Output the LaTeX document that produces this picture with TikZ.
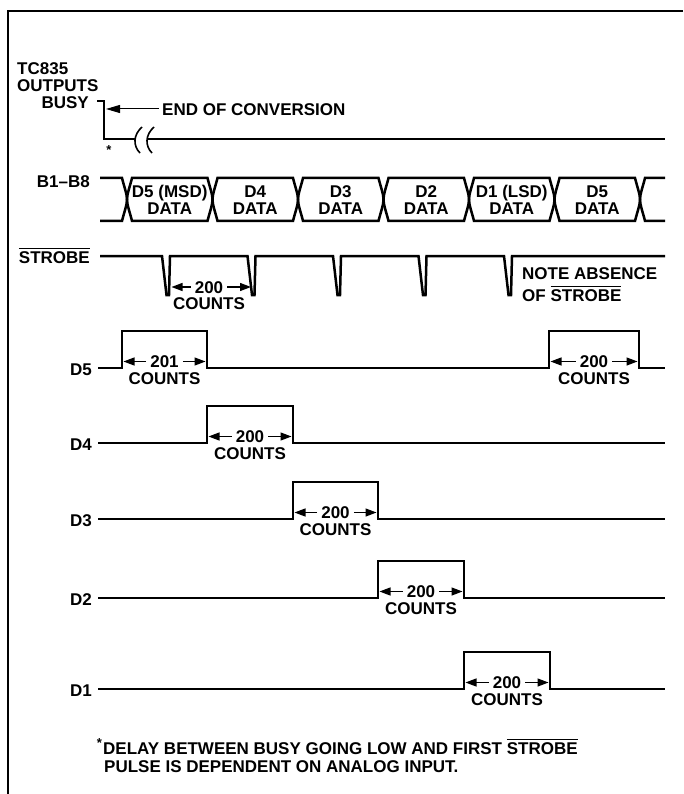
\documentclass[tikz,border=0pt]{standalone}
\usepackage{fontspec}
\setmainfont{Liberation Sans}
\usetikzlibrary{arrows.meta}
\newcommand\ovl[1]{\vbox{\hrule height 0.9pt\kern 2.5pt\hbox{#1}}}
\begin{document}
\begin{tikzpicture}[x=1pt,y=-1pt,
  sig/.style={line width=2.5pt},
  thinline/.style={line width=1.6pt},
  lbl/.style={font=\fontsize{17}{18}\selectfont\bfseries, inner sep=0pt, text height=12.2pt, text depth=0pt},
  small/.style={font=\fontsize{13}{13}\selectfont\bfseries, inner sep=0pt},
  frame/.style={line width=1.2pt},
  dim/.style={line width=1.3pt, -{Triangle[length=11pt,width=8pt]}},
  eocarrow/.style={line width=1pt, -{Triangle[length=14pt,width=8pt]}}
]
\useasboundingbox (0,0) rectangle (683,794);
% frame
\draw[frame] (683,11) -- (8,11) -- (8,794);

% titles and row labels
\node[lbl,anchor=west] (tc) at (17,68) {TC835};
\node[lbl,anchor=west] (outs) at (17,85) {OUTPUTS};
\node[lbl,anchor=east] (busyl) at (89,102) {BUSY};
\node[lbl,anchor=east] (bl) at (90,181) {B1–B8};
\node[lbl,anchor=east] (sl) at (90,257) {\ovl{STROBE}};
\node[lbl,anchor=east] (d5l) at (92,369) {D5};
\node[lbl,anchor=east] (d4l) at (92,444) {D4};
\node[lbl,anchor=east] (d3l) at (92,520) {D3};
\node[lbl,anchor=east] (d2l) at (92,599) {D2};
\node[lbl,anchor=east] (d1l) at (92,690) {D1};

% BUSY
\draw[sig] (97,101) -- (104,101) -- (104,139) -- (136,139);
\draw[sig] (148,139) -- (665,139);
\draw[thinline] (142,127) .. controls (133,135) and (133,146) .. (140,153);
\draw[thinline] (154,127) .. controls (145,135) and (145,146) .. (152,153);
\node[small] (star) at (109,150) {*};
\node[lbl,anchor=west] (eoc) at (162,109) {END OF CONVERSION};
\coordinate (eoctip) at (106,109);
\draw[eocarrow] ([xshift=-3pt]eoc.west) -- (eoctip);

% bus B1-B8
\draw[sig] (100,178) -- (122,178) .. controls (124.5,188) and (127,194) .. (127,199.5)
  .. controls (127,205) and (124.5,211) .. (122,221) -- (100,221);
\foreach \i in {0,...,5} {
  \pgfmathsetmacro\a{127+85.5*\i}
  \pgfmathsetmacro\b{\a+85.5}
  \draw[sig] (\a+5,178) -- (\b-5,178) .. controls (\b-2.5,188) and (\b,194) .. (\b,199.5)
    .. controls (\b,205) and (\b-2.5,211) .. (\b-5,221) -- (\a+5,221)
    .. controls (\a+2.5,211) and (\a,205) .. (\a,199.5)
    .. controls (\a,194) and (\a+2.5,188) .. cycle;
}
\draw[sig] (665,178) -- (645,178) .. controls (642.5,188) and (640,194) .. (640,199.5)
  .. controls (640,205) and (642.5,211) .. (645,221) -- (665,221);
\foreach \t/\nm [count=\k from 0] in {D5 (MSD)/b1, D4/b2, D3/b3, D2/b4, D1 (LSD)/b5, D5/b6} {
  \pgfmathsetmacro\m{169.75+85.5*\k}
  \node[lbl] (\nm t) at (\m,191) {\t};
  \node[lbl] (\nm d) at (\m,208) {DATA};
}

% STROBE
\draw[sig] (100,256) \foreach \s in {162,247.5,333,418.5,504} {
  -- (\s,256) -- (\s+4.5,295) -- (\s+7,295) -- (\s+8,256) } -- (665,256);
\node[lbl] (sc1) at (209,287) {200};
\node[lbl] (sc2) at (209,303) {COUNTS};
\coordinate (stl) at (171.5,287);
\coordinate (str) at (251,287);
\draw[dim] ([xshift=-4pt]sc1.west) -- (stl);
\draw[dim] ([xshift=4pt]sc1.east) -- (str);
\node[lbl,anchor=west] (na1) at (522,273) {NOTE ABSENCE};
\node[lbl,anchor=west] (na2) at (522,295) {OF \ovl{STROBE}};

% D rows
\draw[sig] (98,368) -- (122,368) -- (122,331) -- (207,331) -- (207,368) -- (549,368) -- (549,331) -- (639,331) -- (639,368) -- (665,368);
\draw[sig] (98,443) -- (207,443) -- (207,406) -- (293,406) -- (293,443) -- (665,443);
\draw[sig] (98,519) -- (293,519) -- (293,482) -- (378,482) -- (378,519) -- (665,519);
\draw[sig] (98,598) -- (378,598) -- (378,561) -- (464,561) -- (464,598) -- (665,598);
\draw[sig] (98,689) -- (464,689) -- (464,652) -- (550,652) -- (550,689) -- (665,689);

\foreach \a/\b/\y/\n/\nm in {122/207/368/201/pa, 549/639/368/200/pb, 207/293/443/200/pc, 293/378/519/200/pd, 378/464/598/200/pe, 464/550/689/200/pf} {
  \pgfmathsetmacro\m{(\a+\b)/2}
  \node[lbl] (\nm n) at (\m,\y-6.5) {\n};
  \node[lbl] (\nm c) at (\m,\y+10) {COUNTS};
  \coordinate (\nm l) at (\a+1.5,\y-6.5);
  \coordinate (\nm r) at (\b-1.5,\y-6.5);
  \draw[dim] ([xshift=-4pt]\nm n.west) -- (\nm l);
  \draw[dim] ([xshift=4pt]\nm n.east) -- (\nm r);
}

% footnote
\node[lbl,anchor=west] (fn1) at (103,748) {DELAY BETWEEN BUSY GOING LOW AND FIRST \ovl{STROBE}};
\node[small] (fstar) at (99.5,743) {*};
\node[lbl,anchor=west] (fn2) at (104,766) {PULSE IS DEPENDENT ON ANALOG INPUT.};
\end{tikzpicture}
\end{document}
